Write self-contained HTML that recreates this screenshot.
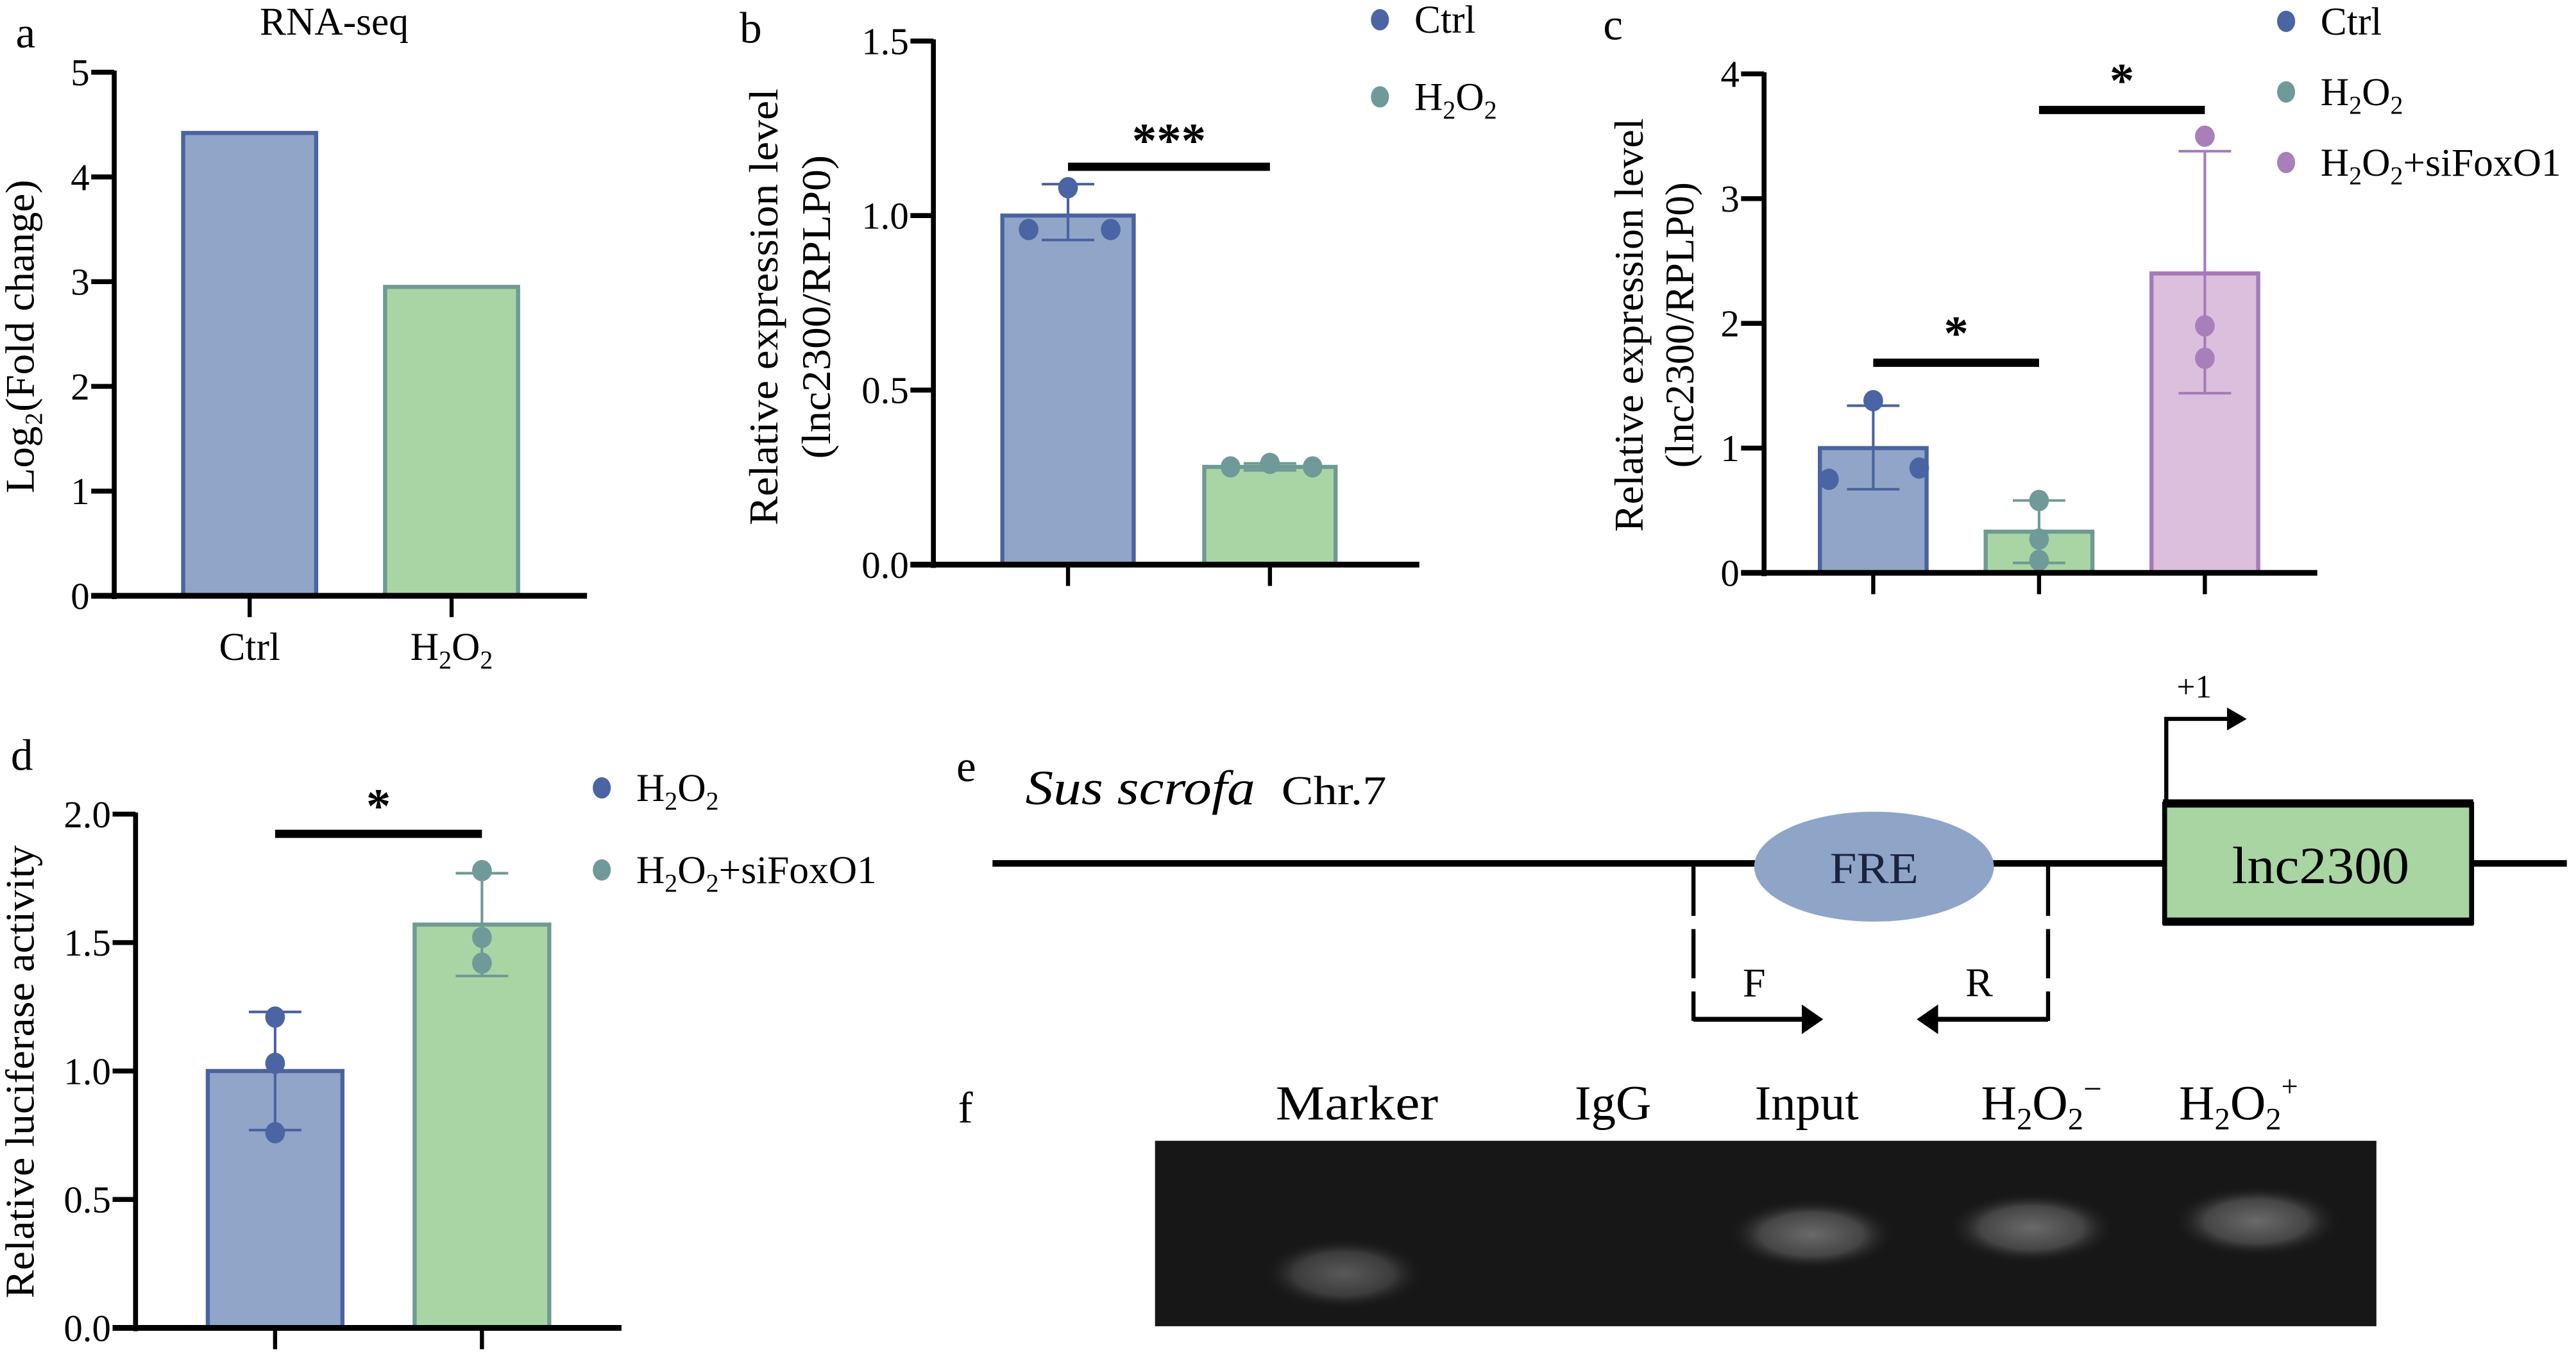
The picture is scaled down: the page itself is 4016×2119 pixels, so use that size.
<!DOCTYPE html>
<html><head><meta charset="utf-8"><style>
html,body{margin:0;padding:0;background:#fff;}
svg, svg text{font-family:"Liberation Serif", serif;}
</style></head><body>
<svg id="fig" xmlns="http://www.w3.org/2000/svg" width="4016" height="2114" viewBox="0 0 1568 826" font-family="Liberation Serif, serif">
<defs>
<radialGradient id="band" cx="50%" cy="50%" r="50%"><stop offset="0%" stop-color="#6a6a6a"/><stop offset="60%" stop-color="#454545"/><stop offset="100%" stop-color="#161616" stop-opacity="0"/></radialGradient>
</defs>
<g>
<text x="582" y="476" font-size="27">e</text>
<text x="624" y="490" font-size="30" font-style="italic" textLength="140" lengthAdjust="spacingAndGlyphs">Sus scrofa</text>
<text x="780" y="490" font-size="25" textLength="64" lengthAdjust="spacingAndGlyphs">Chr.7</text>
<line x1="604" y1="526" x2="1563" y2="526" stroke="#000" stroke-width="4"/>
<ellipse cx="1141" cy="528" rx="73" ry="33.5" fill="#8fa5c8"/>
<text x="1141" y="538" font-size="27" text-anchor="middle" fill="#1a2440" textLength="54" lengthAdjust="spacingAndGlyphs">FRE</text>
<path d="M1031 528 V622 M1247 528 V622" fill="none" stroke="#000" stroke-width="2.5" stroke-dasharray="30 8"/>
<line x1="1031" y1="621" x2="1100" y2="621" stroke="#000" stroke-width="3"/>
<line x1="1247" y1="621" x2="1176" y2="621" stroke="#000" stroke-width="3"/>
<path d="M1097 612 L1110 621 L1097 630 Z" fill="#000"/>
<path d="M1180 612 L1167 621 L1180 630 Z" fill="#000"/>
<text x="1068" y="607" font-size="25" text-anchor="middle">F</text>
<text x="1205" y="607" font-size="25" text-anchor="middle">R</text>
<rect x="1318" y="490" width="187" height="72" fill="#a8d5a2" stroke="#000" stroke-width="3"/>
<rect x="1317" y="487" width="189" height="5" fill="#000"/><rect x="1317" y="559" width="189" height="5" fill="#000"/>
<text x="1413" y="538" font-size="32" text-anchor="middle" textLength="108" lengthAdjust="spacingAndGlyphs">lnc2300</text>
<path d="M1319 489 V438 H1358" fill="none" stroke="#000" stroke-width="2.5"/>
<path d="M1356 431 L1368 438 L1356 445 Z" fill="#000"/>
<text x="1336" y="425" font-size="20" text-anchor="middle">+1</text>
</g>
<g>
<text x="583" y="684" font-size="27">f</text>
<text x="826" y="682" font-size="30" text-anchor="middle" textLength="99" lengthAdjust="spacingAndGlyphs">Marker</text>
<text x="982" y="682" font-size="30" text-anchor="middle">IgG</text>
<text x="1100" y="682" font-size="30" text-anchor="middle">Input</text>
<text x="1243" y="682" font-size="30" text-anchor="middle">H<tspan font-size="19" dy="6">2</tspan><tspan dy="-6">O</tspan><tspan font-size="19" dy="6">2</tspan><tspan font-size="20" dy="-18">−</tspan></text>
<text x="1363" y="682" font-size="30" text-anchor="middle">H<tspan font-size="19" dy="6">2</tspan><tspan dy="-6">O</tspan><tspan font-size="19" dy="6">2</tspan><tspan font-size="18" dy="-20">+</tspan></text>
<rect x="703" y="695" width="744" height="113" fill="#171717"/>
<ellipse cx="818" cy="776" rx="50" ry="22" fill="url(#band)" opacity="0.8"/>
<ellipse cx="1103" cy="752" rx="52" ry="22" fill="url(#band)"/>
<ellipse cx="1237" cy="748" rx="52" ry="22" fill="url(#band)"/>
<ellipse cx="1374" cy="744" rx="52" ry="22" fill="url(#band)"/>
</g>
<g id="charts"></g>
</svg>
<script>
// Panel a data
const aCats = ["Ctrl", "H2O2"];
const aVals = [4.42, 2.95];
const aTicks = [0, 1, 2, 3, 4, 5];
// Panel b data
const bCats = ["Ctrl", "H2O2"];
const bMeans = [1.0, 0.28];
const bLow = [0.93, 0.27];
const bHigh = [1.09, 0.29];
const bPoints = [[0.96, 1.08, 0.96], [0.28, 0.29, 0.28]];
const bTicks = [0.0, 0.5, 1.0, 1.5];
// Panel c data
const cCats = ["Ctrl", "H2O2", "H2O2+siFoxO1"];
const cMeans = [1.0, 0.33, 2.4];
const cLow = [0.67, 0.08, 1.44];
const cHigh = [1.34, 0.58, 3.38];
const cPoints = [[0.75, 1.38, 0.84], [0.58, 0.27, 0.10], [3.5, 1.98, 1.72]];
const cTicks = [0, 1, 2, 3, 4];
// Panel d data
const dCats = ["H2O2", "H2O2+siFoxO1"];
const dMeans = [1.0, 1.57];
const dLow = [0.77, 1.37];
const dHigh = [1.23, 1.77];
const dPoints = [[1.21, 1.03, 0.76], [1.78, 1.52, 1.42]];
const dTicks = [0.0, 0.5, 1.0, 1.5, 2.0];

const NS = "http://www.w3.org/2000/svg";
const FONT = "Liberation Serif, serif";
const root = document.getElementById("charts");
const pal = {
  blue: {fill: "#91a5c8", stroke: "#4a63a0", pt: "#4a64a4"},
  green: {fill: "#a9d5a5", stroke: "#6f9a94", pt: "#6f9a99"},
  purple: {fill: "#dcbfdc", stroke: "#a57ab8", pt: "#a97fba"}
};
function mk(tag, attrs, parent) {
  const e = document.createElementNS(NS, tag);
  if (tag === "text") e.setAttribute("font-family", FONT);
  for (const k in attrs) e.setAttribute(k, attrs[k]);
  (parent || root).appendChild(e);
  return e;
}
function chemLabel(t, x, y, size, anchor, parent) {
  const e = mk("text", {x: x, y: y, "font-size": size, "text-anchor": anchor || "middle"}, parent);
  if (t.startsWith("H2O2")) {
    const rest = t.slice(4);
    const seq = [["H", 0], ["2", 1], ["O", 0], ["2", 1]];
    let sub = false;
    for (const [s, isSub] of seq) {
      const ts = document.createElementNS(NS, "tspan");
      ts.textContent = s;
      if (isSub) { ts.setAttribute("font-size", size * 0.65); ts.setAttribute("dy", size * 0.22); sub = true; }
      else if (sub) { ts.setAttribute("dy", -size * 0.22); sub = false; }
      e.appendChild(ts);
    }
    if (rest) { const ts = document.createElementNS(NS, "tspan"); ts.textContent = rest; ts.setAttribute("dy", -size * 0.22); e.appendChild(ts); }
  } else e.textContent = t;
  return e;
}
function panel(cfg) {
  const g = mk("g", {});
  
  
  const y = v => cfg.y0 - (v - cfg.ticks[0]) / (cfg.ticks[cfg.ticks.length - 1] - cfg.ticks[0]) * (cfg.y0 - cfg.yTop);
  cfg.vals.forEach((v, i) => {
    const c = pal[cfg.colors[i]];
    const x = cfg.barX[i];
    const r = mk("rect", {x: x, y: y(v), width: cfg.barW, height: cfg.y0 - y(v), fill: c.fill, stroke: c.stroke, "stroke-width": 2.5}, g);
    
    
    const cx = x + cfg.barW / 2;
    if (cfg.low) {
      const eg = mk("g", {stroke: c.stroke, "stroke-width": 1.6}, g);
      
      
      mk("line", {x1: cx, x2: cx, y1: y(cfg.low[i]), y2: y(cfg.high[i])}, eg);
      mk("line", {x1: cx - 16, x2: cx + 16, y1: y(cfg.low[i]), y2: y(cfg.low[i])}, eg);
      mk("line", {x1: cx - 16, x2: cx + 16, y1: y(cfg.high[i]), y2: y(cfg.high[i])}, eg);
    }
    if (cfg.points) {
      cfg.points[i].forEach((p, j) => {
        const off = cfg.ptOff[i][j];
        const pt = mk("ellipse", {cx: cx + off, cy: y(p), rx: 6, ry: 6.5, fill: c.pt}, g);
        
        
      });
    }
  });
  const ax = mk("g", {stroke: "#000"}, g);
  
  
  mk("line", {x1: cfg.x0, x2: cfg.x0, y1: cfg.yTop - 1, y2: cfg.y0 + 2, "stroke-width": 3}, ax);
  mk("line", {x1: cfg.x0 - 14, x2: cfg.xEnd, y1: cfg.y0, y2: cfg.y0, "stroke-width": 3.5}, ax);
  cfg.ticks.forEach(t => {
    mk("line", {x1: cfg.x0 - 14, x2: cfg.x0, y1: y(t), y2: y(t), "stroke-width": 3}, ax);
    const tl = mk("text", {x: cfg.x0 - 15, y: y(t) + 8, "font-size": 23, "text-anchor": "end", stroke: "none"}, g);
    tl.textContent = cfg.tickFmt(t);
    
    
  });
  cfg.vals.forEach((v, i) => {
    const cx = cfg.barX[i] + cfg.barW / 2;
    mk("line", {x1: cx, x2: cx, y1: cfg.y0, y2: cfg.y0 + 13, "stroke-width": 2.5}, ax);
    if (cfg.xLabels) {
      const xl = chemLabel(cfg.cats[i], cx, cfg.y0 + 39, 24, "middle", g);
      
      
    }
  });
  cfg.yTitle.forEach((line, k) => {
    const yt = mk("text", {transform: `translate(${cfg.yTitle_x[k]},${cfg.yTitleC}) rotate(-90)`, x: 0, y: 0, "font-size": 25, "text-anchor": "middle", textLength: cfg.yTitleLen[k], lengthAdjust: "spacingAndGlyphs"}, g);
    
    
    yt.textContent = line;
  });
  (cfg.sig || []).forEach(s => {
    const x1 = cfg.barX[s[0]] + cfg.barW / 2, x2 = cfg.barX[s[1]] + cfg.barW / 2;
    const l = mk("rect", {x: x1, y: s[2] - 2.5, width: x2 - x1, height: 5, fill: "#000"}, g);
    
    
    const st = mk("text", {x: (x1 + x2) / 2, y: s[2] + s[4], "font-size": 30, "font-weight": "bold", "text-anchor": "middle"}, g);
    st.setAttribute("font-family", "Liberation Sans, sans-serif");
    st.textContent = s[3];
    
    
  });
  if (cfg.legend) {
    cfg.cats.forEach((c, i) => {
      const ly = cfg.legend.y + i * cfg.legend.dy;
      const lg = mk("g", {}, g);
      
      
      mk("ellipse", {cx: cfg.legend.x, cy: ly, rx: 5.5, ry: 6.5, fill: pal[cfg.colors[i]].pt}, lg);
      chemLabel(c, cfg.legend.x + 21, ly + 8, 24, "start", lg);
    });
  }
  const lt = mk("text", {x: cfg.letter[0], y: cfg.letter[1], "font-size": 27}, g);
  lt.textContent = cfg.letter[2];
  
  
  return g;
}
const f1 = t => t.toFixed(1);
panel({name: "panel-a-chart", cats: aCats, vals: aVals, ticks: aTicks, colors: ["blue", "green"],
  x0: 69, y0: 363, yTop: 44, xEnd: 357, barX: [111, 234], barW: 81, xLabels: true,
  tickFmt: t => String(t), yTitle: ["Log\u2082(Fold change)"], yTitle_x: [20], yTitleC: 205, yTitleLen: [191],
  letter: [9, 29, "a"]});
const at = mk("text", {x: 203, y: 21, "font-size": 24, "text-anchor": "middle"});
at.textContent = "RNA-seq";


panel({name: "panel-b-chart", cats: bCats, vals: bMeans, low: bLow, high: bHigh, points: bPoints,
  ptOff: [[-24, 0, 26], [-24, 0, 26]],
  ticks: bTicks, colors: ["blue", "green"], x0: 568, y0: 344, yTop: 25, xEnd: 864, barX: [610, 733], barW: 80,
  tickFmt: f1, yTitle: ["Relative expression level", "(lnc2300/RPLP0)"], yTitle_x: [473, 505], yTitleC: 187, yTitleLen: [266, 185],
  letter: [450, 26, "b"],
  sig: [[0, 1, 101.6, "***", -6]], legend: {x: 840, y: 12, dy: 47}});
panel({name: "panel-c-chart", cats: cCats, vals: cMeans, low: cLow, high: cHigh, points: cPoints,
  ptOff: [[-27, 0, 28], [0, 0, 0], [0, 0, 0]],
  ticks: cTicks, colors: ["blue", "green", "purple"], x0: 1074, y0: 349, yTop: 45, xEnd: 1411, barX: [1108, 1209, 1310], barW: 65,
  tickFmt: t => String(t), yTitle: ["Relative expression level", "(lnc2300/RPLP0)"], yTitle_x: [1000, 1031], yTitleC: 198, yTitleLen: [252, 174],
  letter: [976, 24, "c"],
  sig: [[0, 1, 221, "*", -8], [1, 2, 67, "*", -8]], legend: {x: 1392, y: 13, dy: 43}});
panel({name: "panel-d-chart", cats: dCats, vals: dMeans, low: dLow, high: dHigh, points: dPoints,
  ptOff: [[0, 0, 0], [0, 0, 0]],
  ticks: dTicks, colors: ["blue", "green"], x0: 82, y0: 809, yTop: 496, xEnd: 378, barX: [126, 252], barW: 82,
  tickFmt: f1, yTitle: ["Relative luciferase activity"], yTitle_x: [20], yTitleC: 653, yTitleLen: [276],
  letter: [6, 469, "d"],
  sig: [[0, 1, 508, "*", -7]], legend: {x: 366, y: 480, dy: 50}});
</script>
</body></html>
